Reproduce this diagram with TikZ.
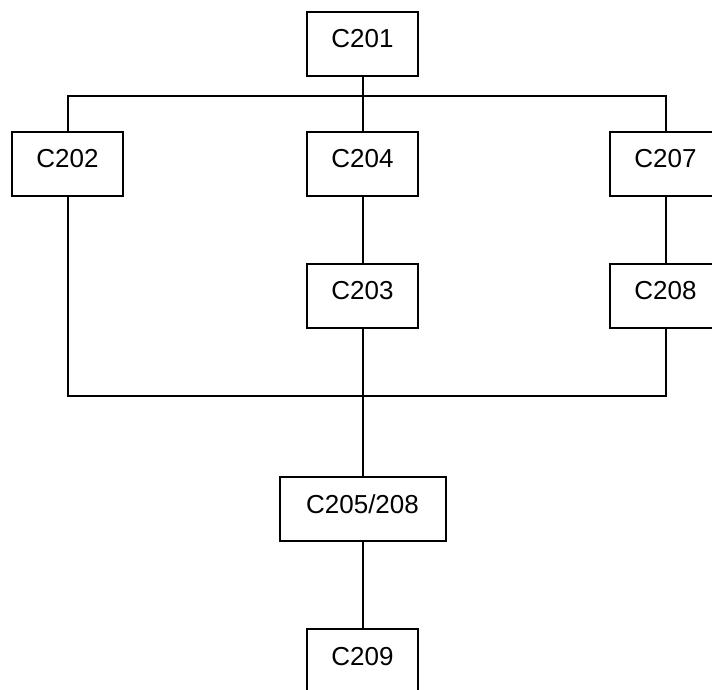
\documentclass[tikz,border=0pt]{standalone}
\usepackage{fontspec}
\setmainfont{Liberation Sans}
\begin{document}
\begin{tikzpicture}[x=1pt,y=-1pt,
  box/.style={draw=black,line width=2pt,fill=white,inner sep=0pt,outer sep=0pt,
    minimum width=111pt,minimum height=64pt,text height=36pt,text depth=28pt,
    font=\fontsize{26}{31}\selectfont},
  wire/.style={draw=black,line width=2pt}]
\useasboundingbox (0,0) rectangle (712,689);
\clip (0,0) rectangle (712,689);
\coordinate (busT) at (362.5,96);
\coordinate (busB) at (362.5,396);
\node[box] (c201) at (362.5,43.5) {C201\hspace{8pt}};
\node[box] (c202) at (67.5,163.5) {C202\hspace{8pt}};
\node[box] (c204) at (362.5,163.5) {C204\hspace{8pt}};
\node[box] (c207) at (665.5,163.5) {C207\hspace{8pt}};
\node[box] (c203) at (362.5,295.5) {C203\hspace{8pt}};
\node[box] (c208) at (665.5,295.5) {C208\hspace{8pt}};
\node[box,minimum width=166pt] (c205) at (362.5,509) {C205/208\hspace{8pt}};
\node[box] (c209) at (362.5,661) {C209\hspace{8pt}};
\draw[wire] (c201.south) -- (busT);
\draw[wire] (c202.north) |- (busT) -| (c207.north);
\draw[wire] (busT) -- (c204.north);
\draw[wire] (c204.south) -- (c203.north);
\draw[wire] (c207.south) -- (c208.north);
\draw[wire] (c202.south) |- (busB) -| (c208.south);
\draw[wire] (c203.south) -- (c205.north);
\draw[wire] (c205.south) -- (c209.north);
\end{tikzpicture}
\end{document}
